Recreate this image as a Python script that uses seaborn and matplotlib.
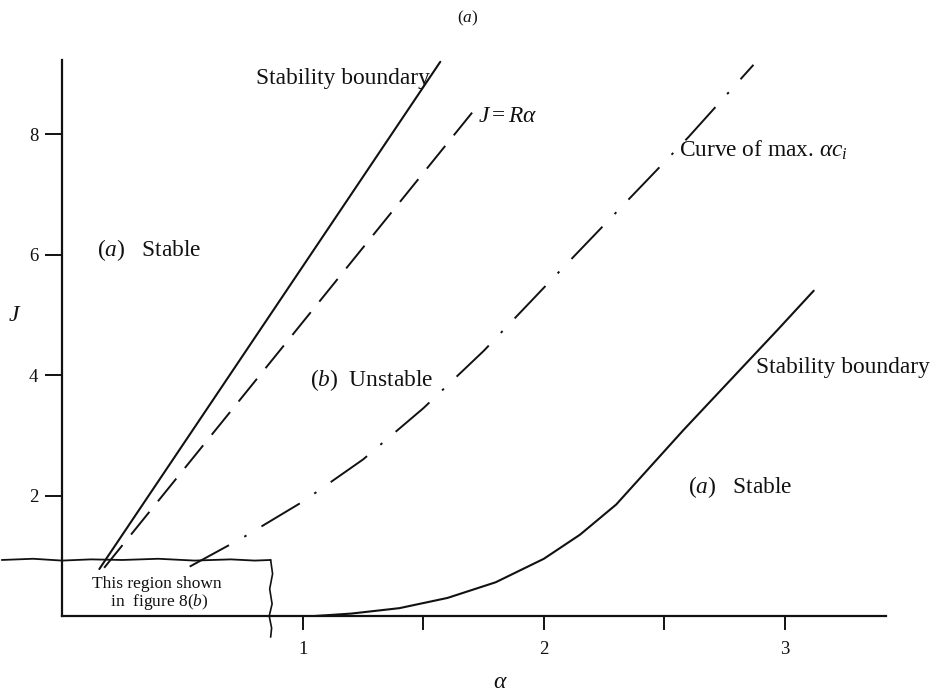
import matplotlib
matplotlib.use("Agg")
import matplotlib.pyplot as plt
import seaborn as sns

# Stability diagram in the (alpha, J) plane
stab_left_alpha = [0.155, 1.57]
stab_left_J = [0.78, 9.20]

ralpha_alpha = [0.175, 1.715]
ralpha_J = [0.80, 8.42]

maxac_alpha = [0.53, 0.75, 1.0, 1.25, 1.5, 1.75, 2.0, 2.3, 2.6, 2.87]
maxac_J = [0.82, 1.30, 1.90, 2.60, 3.45, 4.40, 5.45, 6.70, 7.95, 9.15]

stab_right_alpha = [1.05, 1.2, 1.4, 1.6, 1.8, 2.0, 2.15, 2.3, 2.58, 2.97, 3.12]
stab_right_J = [0.0, 0.04, 0.13, 0.30, 0.56, 0.95, 1.35, 1.85, 3.09, 4.75, 5.40]

# hand-drawn inset frame (region enlarged in figure 8(b))
box_top_alpha = [-0.25, -0.12, 0.0, 0.12, 0.25, 0.4, 0.55, 0.7, 0.8, 0.866]
box_top_J = [0.93, 0.95, 0.92, 0.94, 0.93, 0.95, 0.92, 0.94, 0.92, 0.93]
box_side_alpha = [0.866, 0.874, 0.862, 0.872, 0.860, 0.870, 0.866]
box_side_J = [0.93, 0.7, 0.45, 0.2, 0.0, -0.2, -0.35]

x_ticks = [1, 1.5, 2, 2.5, 3]
x_ticklabels = ["1", "", "2", "", "3"]
y_ticks = [2, 4, 6, 8]
y_ticklabels = ["2", "4", "6", "8"]

sns.set_theme(style="ticks")
plt.rcParams["font.family"] = ["Liberation Serif", "DejaVu Serif"]
plt.rcParams["mathtext.fontset"] = "custom"
plt.rcParams["mathtext.rm"] = "Liberation Serif"
plt.rcParams["mathtext.it"] = "Liberation Serif:italic"
plt.rcParams["mathtext.bf"] = "Liberation Serif:bold"

fig = plt.figure(figsize=(9.36, 6.94), dpi=100)
ax = fig.add_axes([62 / 936, 1 - 616 / 694, (886 - 62) / 936, (616 - 60) / 694])

ink = "#111111"
lw = 1.5

sns.lineplot(x=stab_left_alpha, y=stab_left_J, ax=ax, color=ink, lw=lw,
             sort=False, estimator=None)
sns.lineplot(x=ralpha_alpha, y=ralpha_J, ax=ax, color=ink, lw=1.4,
             sort=False, estimator=None, linestyle=(0, (15, 7)))
sns.lineplot(x=maxac_alpha, y=maxac_J, ax=ax, color=ink, lw=1.4,
             sort=False, estimator=None, linestyle=(0, (23, 9, 1.3, 9)))
sns.lineplot(x=stab_right_alpha, y=stab_right_J, ax=ax, color=ink, lw=lw,
             sort=False, estimator=None)

ax.plot(box_top_alpha, box_top_J, color=ink, lw=1.3, clip_on=False)
ax.plot(box_side_alpha, box_side_J, color=ink, lw=1.2, clip_on=False)

ax.set_xlim(0, 3.42)
ax.set_ylim(0, 9.23)
ax.set_xticks(x_ticks)
ax.set_xticklabels(x_ticklabels)
ax.set_yticks(y_ticks)
ax.set_yticklabels(y_ticklabels)
ax.tick_params(axis="x", direction="out", length=10, width=1.4, pad=8,
               labelsize=13.5, colors=ink)
ax.tick_params(axis="y", direction="out", length=12, width=1.4, pad=5,
               labelsize=13.5, colors=ink)
for side in ("left", "bottom"):
    ax.spines[side].set_linewidth(1.6)
    ax.spines[side].set_color(ink)
sns.despine(ax=ax)
ax.set_facecolor("white")
ax.grid(False)

ax.set_xlabel("")
ax.set_ylabel("")
fig.text(500 / 936, 1 - 683 / 694, r"$\alpha$", fontsize=17, ha="center",
         va="center", color=ink)
fig.text(15 / 936, 1 - 315 / 694, r"$J$", fontsize=17, ha="center",
         va="center", color=ink)
fig.text(0.5, 1 - 18 / 694, r"($\it{a}$)", fontsize=12.5, ha="center",
         va="center", color=ink)

fs = 16.8
ax.text(1.527, 8.93, "Stability boundary", fontsize=fs, ha="right",
        va="center", color=ink)
ax.text(1.725, 8.3, r"$J = R\alpha$", fontsize=fs, ha="left", va="center",
        color=ink)
ax.text(2.56, 7.73, r"Curve of max. $\alpha c_i$", fontsize=fs, ha="left",
        va="center", color=ink)
ax.text(0.145, 6.07, r"($\it{a}$)   Stable", fontsize=fs, ha="left",
        va="center", color=ink)
ax.text(1.03, 3.92, r"($\it{b}$)  Unstable", fontsize=fs, ha="left",
        va="center", color=ink)
ax.text(2.88, 4.13, "Stability boundary", fontsize=fs, ha="left",
        va="center", color=ink)
ax.text(2.6, 2.14, r"($\it{a}$)   Stable", fontsize=fs, ha="left",
        va="center", color=ink)
ax.text(0.394, 0.365, "This region shown\n in  figure 8($\\it{b}$)",
        fontsize=12.5, ha="center", va="center", color=ink,
        linespacing=1.0)

fig.savefig("out.png", dpi=100, facecolor="white")
